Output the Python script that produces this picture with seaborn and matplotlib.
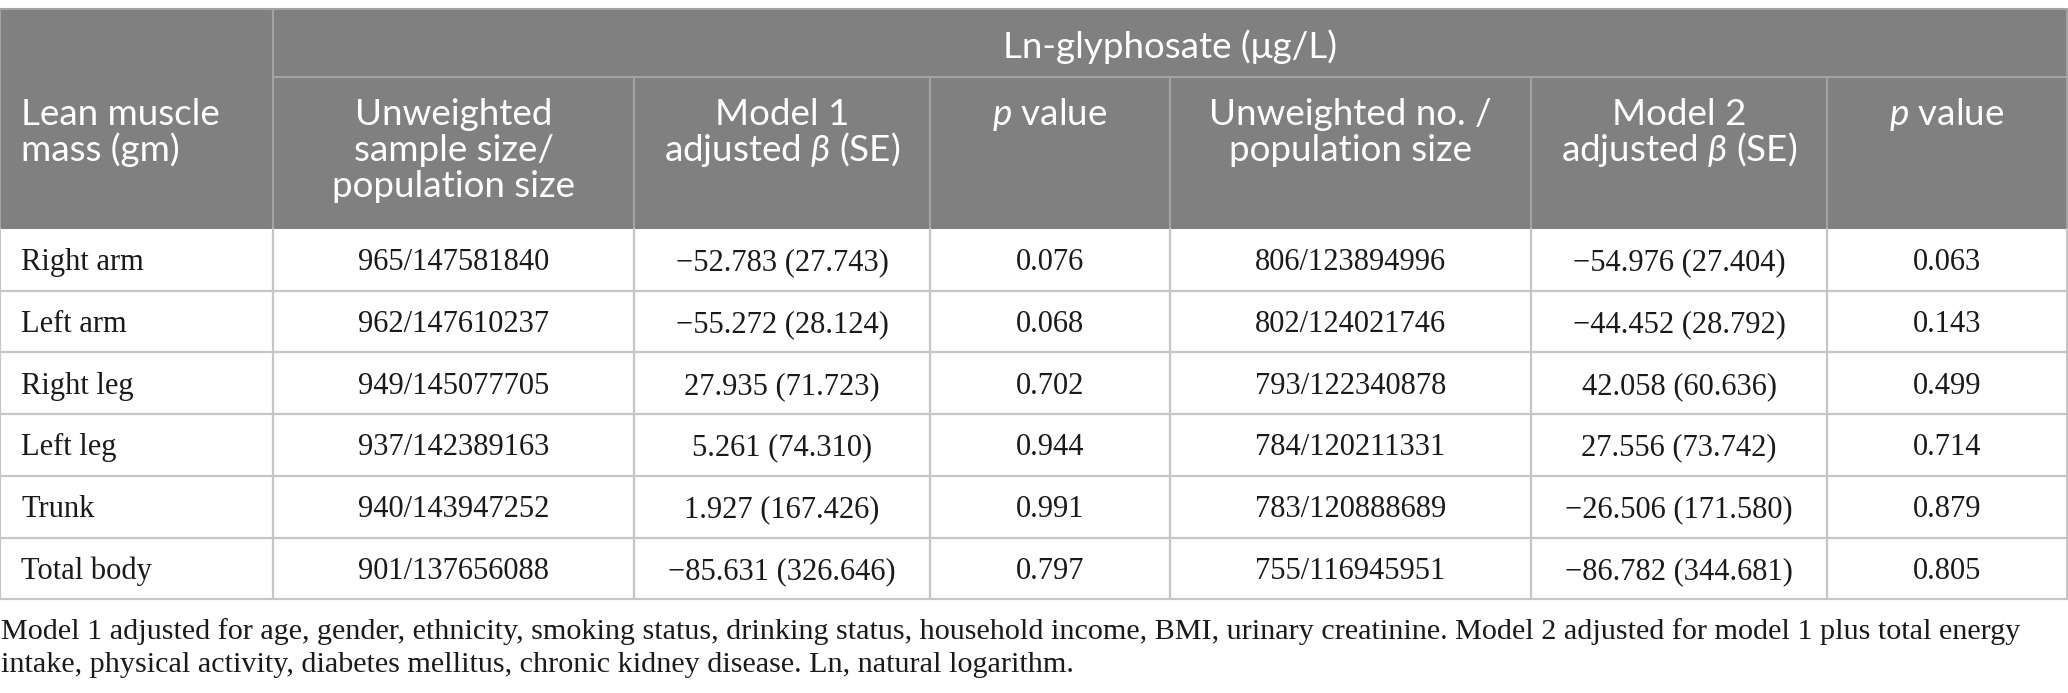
import matplotlib
matplotlib.use("Agg")
import matplotlib.pyplot as plt
import seaborn as sns

# table data
body_parts = ["Right arm", "Left arm", "Right leg", "Left leg", "Trunk", "Total body"]
m1_size = ["965/147581840", "962/147610237", "949/145077705",
           "937/142389163", "940/143947252", "901/137656088"]
m1_beta = [-52.783, -55.272, 27.935, 5.261, 1.927, -85.631]
m1_se = [27.743, 28.124, 71.723, 74.310, 167.426, 326.646]
m1_p = [0.076, 0.068, 0.702, 0.944, 0.991, 0.797]
m2_size = ["806/123894996", "802/124021746", "793/122340878",
           "784/120211331", "783/120888689", "755/116945951"]
m2_beta = [-54.976, -44.452, 42.058, 27.556, -26.506, -86.782]
m2_se = [27.404, 28.792, 60.636, 73.742, 171.580, 344.681]
m2_p = [0.063, 0.143, 0.499, 0.714, 0.879, 0.805]

top_header = "Ln-glyphosate (\u03bcg/L)"
col_headers = [["Lean muscle", "mass (gm)"],
               ["Unweighted", "sample size/", "population size"],
               ["Model 1", r"adjusted $\beta$ (SE)"],
               [r"$p$ value"],
               ["Unweighted no. /", "population size"],
               ["Model 2", r"adjusted $\beta$ (SE)"],
               [r"$p$ value"]]
footnote = ["Model 1 adjusted for age, gender, ethnicity, smoking status, drinking status, household income, BMI, urinary creatinine. Model 2 adjusted for model 1 plus total energy",
            "intake, physical activity, diabetes mellitus, chronic kidney disease. Ln, natural logarithm."]

sns.set_theme(style="white")
plt.rcParams["mathtext.fontset"] = "custom"
plt.rcParams["mathtext.it"] = "Lato:italic"
plt.rcParams["mathtext.rm"] = "Lato"
plt.rcParams["mathtext.fallback"] = "stix"


def fmt_beta(b, se):
    return f"{b:.3f} ({se:.3f})".replace("-", "\u2212")


cells = []
for i in range(len(body_parts)):
    cells.append([body_parts[i], m1_size[i], fmt_beta(m1_beta[i], m1_se[i]), f"{m1_p[i]:.3f}",
                  m2_size[i], fmt_beta(m2_beta[i], m2_se[i]), f"{m2_p[i]:.3f}"])

W, H = 2068, 693
fig = plt.figure(figsize=(W / 100, H / 100), dpi=100)
ax = fig.add_axes([0, 0, 1, 1])
ax.set_xlim(0, W)
ax.set_ylim(H, 0)
ax.axis("off")

xs = [0, 273, 634, 930, 1170, 1531, 1827, 2067]
y_top, y_h1, y_h2 = 9, 77, 229
row_h = 61.7
ys = [y_h2 + i * row_h for i in range(len(body_parts) + 1)]

head_bg = "#808080"
head_line = "#a3a3a3"
body_line = "#c6c6c6"

# header background
ax.add_patch(plt.Rectangle((xs[0], y_top), xs[-1] - xs[0], y_h2 - y_top,
                           facecolor=head_bg, edgecolor="none"))
ax.plot([xs[0], xs[-1]], [y_top, y_top], color=head_line, lw=1.5)
ax.plot([xs[1], xs[-1]], [y_h1, y_h1], color=head_line, lw=1.5)
ax.plot([xs[0], xs[0]], [y_top, y_h2], color=head_line, lw=1.5)
ax.plot([xs[-1], xs[-1]], [y_top, y_h2], color=head_line, lw=1.5)
ax.plot([xs[1], xs[1]], [y_top, y_h2], color=head_line, lw=1.5)
for x in xs[2:-1]:
    ax.plot([x, x], [y_h1, y_h2], color=head_line, lw=1.5)

# body grid
for y in ys[1:]:
    ax.plot([xs[0], xs[-1]], [y, y], color=body_line, lw=1.6)
for x in xs:
    ax.plot([x, x], [ys[0], ys[-1]], color=body_line, lw=1.6)

head_font = dict(family="Lato", size=26.5, color="white")
ax.text((xs[1] + xs[-1]) / 2, 58, top_header, ha="center", va="baseline", **head_font)
for j, lines in enumerate(col_headers):
    for k, line in enumerate(lines):
        if j == 0:
            ax.text(xs[0] + 21, 125 + 36 * k, line, ha="left", va="baseline", **head_font)
        else:
            ax.text((xs[j] + xs[j + 1]) / 2, 125 + 36 * k, line, ha="center", va="baseline", **head_font)

body_font = dict(family="Liberation Serif", size=22, color="#1a1a1a")
for i, row in enumerate(cells):
    yb = (ys[i] + ys[i + 1]) / 2 + 10.5
    for j, val in enumerate(row):
        if j == 0:
            ax.text(xs[0] + 21, yb, val, ha="left", va="baseline", **body_font)
        else:
            ax.text((xs[j] + xs[j + 1]) / 2, yb, val, ha="center", va="baseline", **body_font)

for k, line in enumerate(footnote):
    ax.text(1, 639 + 33 * k, line, ha="left", va="baseline",
            family="Liberation Serif", size=21.7, color="#1a1a1a")

fig.savefig("out.png", dpi=100)
